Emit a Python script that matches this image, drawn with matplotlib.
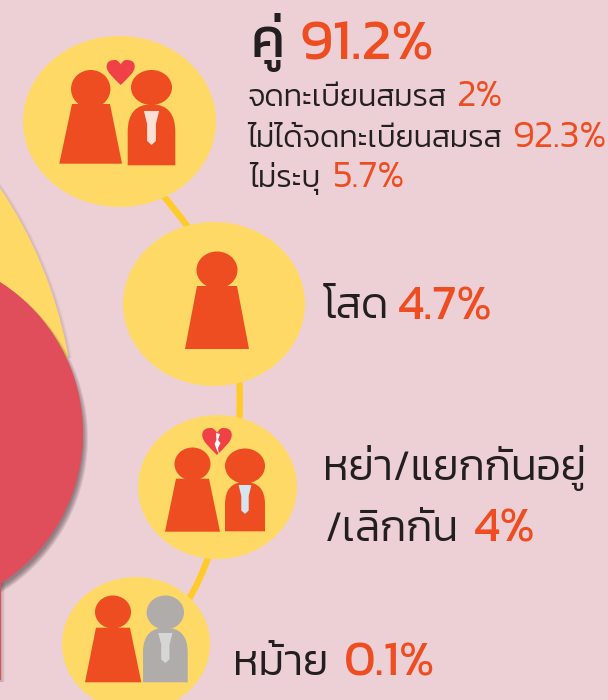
"""Thai marital status infographic, bubbles with little people and percentages."""

import matplotlib
matplotlib.use('Agg')
import matplotlib.pyplot as plt
from matplotlib.patches import Ellipse, Polygon, PathPatch, Rectangle
from matplotlib.path import Path

plt.rcParams['font.family'] = ['Kanit', 'Prompt', 'IBM Plex Sans Thai', 'DejaVu Sans']

# ── data ──
couple_label = 'คู่'
couple_pct = '91.2%'
couple_sub_labels = ['จดทะเบียนสมรส', 'ไม่ได้จดทะเบียนสมรส', 'ไม่ระบุ']
couple_sub_pcts = ['2%', '92.3%', '5.7%']
single_label = 'โสด'
single_pct = '4.7%'
divorced_labels = ['หย่า/แยกกันอยู่', '/เลิกกัน']
divorced_pct = '4%'
widowed_label = 'หม้าย'
widowed_pct = '0.1%'

BG = '#EDD0D5'
YELLOW = '#FFD966'
LINK = '#FFCB29'
ORANGE = '#EE4C21'
RED = '#E14E5B'
HEART = '#EF4146'
DARK = '#231F20'
GREY = '#B0ACAA'

fig = plt.figure(figsize=(6.08, 7), dpi=100, facecolor=BG)
ax = fig.add_axes([0, 0, 1, 1])
ax.set_xlim(0, 608)
ax.set_ylim(700, 0)
ax.axis('off')


def woman(head_x, head_y, rx, ry, top, bottom, top_l, top_r, bot_l, bot_r):
    ax.add_patch(Ellipse((head_x, head_y), rx * 2, ry * 2, color=ORANGE, lw=0, zorder=5))
    ax.add_patch(Polygon([(top_l, top), (top_r, top), (bot_r, bottom), (bot_l, bottom)],
                         color=ORANGE, lw=0, zorder=5))


def man(head_x, head_y, rx, ry, left, right, top, bottom, tie_col, tie_top, tie_tip, col=ORANGE):
    ax.add_patch(Ellipse((head_x, head_y), rx * 2, ry * 2, color=col, lw=0, zorder=5))
    mid = (left + right) / 2
    shoulder = top + (bottom - top) * 0.45
    verts = [(left, bottom), (left, shoulder), (left, top), (mid, top), (right, top),
             (right, shoulder), (right, bottom), (left, bottom)]
    codes = [Path.MOVETO, Path.LINETO, Path.CURVE3, Path.CURVE3, Path.CURVE3, Path.CURVE3,
             Path.LINETO, Path.CLOSEPOLY]
    ax.add_patch(PathPatch(Path(verts, codes), color=col, lw=0, zorder=5))
    # tie: wide knot, narrow blade, pointy tip
    w = (right - left) * 0.16
    n = w * 0.58
    h = tie_tip - tie_top
    ax.add_patch(Polygon([(mid - w, tie_top), (mid + w, tie_top), (mid + n, tie_top + h * 0.38),
                          (mid + n, tie_tip - h * 0.12), (mid, tie_tip), (mid - n, tie_tip - h * 0.12),
                          (mid - n, tie_top + h * 0.38)], color=tie_col, lw=0, zorder=6))


def heart(cx, top, w, h):
    hw = w / 2
    verts = [(cx, top + h), (cx - hw * 0.5, top + h * 0.72), (cx - hw, top + h * 0.5), (cx - hw, top + h * 0.26),
             (cx - hw, top), (cx - hw * 0.55, top), (cx - hw * 0.4, top),
             (cx - hw * 0.15, top), (cx, top + h * 0.18), (cx, top + h * 0.18),
             (cx, top + h * 0.18), (cx + hw * 0.15, top), (cx + hw * 0.4, top),
             (cx + hw * 0.55, top), (cx + hw, top), (cx + hw, top + h * 0.26),
             (cx + hw, top + h * 0.5), (cx + hw * 0.5, top + h * 0.72), (cx, top + h)]
    codes = [Path.MOVETO] + [Path.CURVE4] * 18
    ax.add_patch(PathPatch(Path(verts, codes), color=HEART, lw=0, zorder=6))


def label(x, y, s, size, color=DARK, weight=300):
    ax.text(x, y, s, fontsize=size, color=color, fontweight=weight,
            ha='left', va='baseline', zorder=8)


# ── big shapes on the left, cut by the edge ──
# yellow only shows above the red circle
cut = Rectangle((0, 0), 608, 358, transform=ax.transData)
for i in range(5):
    p = Ellipse((-362, 434), 2 * (438 + i * 0.7), 2 * (438 + i * 0.7),
                color='#7a6a70', alpha=0.05, lw=0, zorder=1)
    ax.add_patch(p)
    p.set_clip_path(cut)
p = Ellipse((-363, 433), 876, 876, color=YELLOW, lw=0, zorder=1.5)
ax.add_patch(p)
p.set_clip_path(cut)
for i in range(6):
    ax.add_patch(Ellipse((-96 + 3, 433 + 5), 2 * (176 + i * 1.0), 2 * (176 + i * 1.0),
                         color='#3a3035', alpha=0.11, lw=0, zorder=2))
    ax.add_patch(Rectangle((0, 575), 1.5 + i * 0.7, 107, color='#3a3035', alpha=0.04, lw=0, zorder=2))
ax.add_patch(Ellipse((-96, 433), 358, 358, color=RED, lw=0, zorder=3))
ax.add_patch(Rectangle((0, 575), 1.2, 105, color=RED, lw=0, zorder=3))

# ── connectors ──
links = [[(160, 192), (176, 210), (190, 230)],
         [(239, 378), (241, 400), (239, 422)],
         [(210, 552), (201, 580), (186, 604)]]
for pts in links:
    ax.add_patch(PathPatch(Path(pts, [Path.MOVETO, Path.CURVE3, Path.CURVE3]), fc='none', ec=LINK,
                           lw=4.6, capstyle='butt', zorder=3.5))

# ── bubbles ──
for c, w, h in [((119.5, 121.5), 193, 171), ((214, 304), 182, 164),
                ((217.5, 487), 159, 144), ((136, 644), 148, 134)]:
    ax.add_patch(Ellipse(c, w, h, color=YELLOW, lw=0, zorder=4))

# ── people ──
woman(90.7, 89, 19.7, 19, 104, 163.7, 72, 110, 59.3, 122)
man(151.5, 87.5, 20.5, 17.5, 127.7, 175.3, 104.3, 165.3, '#FDE0D5', 111, 145)
heart(120.7, 60, 28, 25)

woman(217, 270, 20.5, 18.5, 286, 349, 197, 237, 185, 249)

woman(192.5, 464, 18, 16.5, 478.7, 531.7, 176, 209, 165, 220)
man(245, 466, 20, 17.5, 225, 265, 482, 531.3, '#D6E4F0', 485, 514)
heart(217, 428, 29.5, 27)
ax.add_patch(Polygon([(216, 433), (220, 434), (218, 440), (220.5, 443), (218, 448), (219, 455),
                      (216.5, 449), (214.5, 444), (216.5, 440)], color='white', lw=0, zorder=7))

woman(113, 612, 18, 16.5, 627.7, 682.3, 96, 130, 85, 141.3)
man(165.3, 612.5, 18.7, 17, 143, 187.7, 627.7, 682.3, '#D6D6D4', 633, 663, col=GREY)

# ── text ──
label(251, 57, couple_label, 40, weight=400)
label(300, 60, couple_pct, 42, color=ORANGE, weight=400)

label(247, 106, couple_sub_labels[0], 22)
label(456, 106, couple_sub_pcts[0], 27.5, color=ORANGE)
label(247, 147, couple_sub_labels[1], 22)
label(512, 147, couple_sub_pcts[1], 27.5, color=ORANGE)
label(249, 187, couple_sub_labels[2], 22)
label(333, 187, couple_sub_pcts[2], 27.5, color=ORANGE)

label(323, 318, single_label, 31)
label(398, 319, single_pct, 35, color=ORANGE, weight=400)

label(323, 480, divorced_labels[0], 31)
label(325, 541, divorced_labels[1], 31)
label(474, 541, divorced_pct, 35, color=ORANGE, weight=400)

label(233, 675, widowed_label, 31)
label(344, 676, widowed_pct, 35, color=ORANGE, weight=400)

fig.savefig('out.png', dpi=100, facecolor=BG)
plt.close()
